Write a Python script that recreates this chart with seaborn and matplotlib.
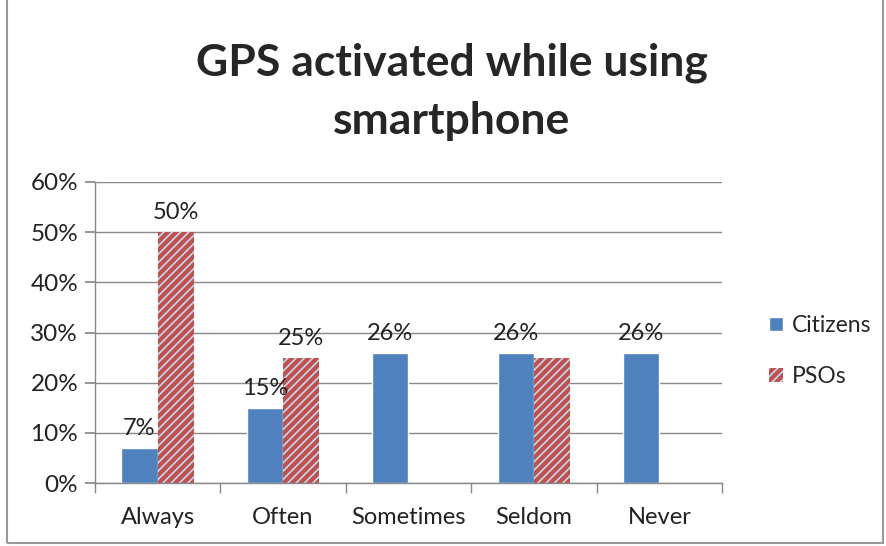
import numpy as np
import pandas as pd
import matplotlib
matplotlib.use('Agg')
import matplotlib.pyplot as plt
import seaborn as sns
from matplotlib.patches import Rectangle, Patch
from matplotlib.ticker import PercentFormatter, FixedLocator

# ------------------------------------------------------------
# DATA
# ------------------------------------------------------------
categories = ['Always', 'Often', 'Sometimes', 'Seldom', 'Never']
citizens   = [0.07, 0.15, 0.26, 0.26, 0.26]
psos       = [0.50, 0.25, np.nan, 0.25, np.nan]
series     = ['Citizens', 'PSOs']

BLUE = '#4F81BD'
RED  = '#C0504D'
PALE = '#C6D5E8'
GRID = '#888888'
TXT  = '#222222'

df = pd.DataFrame({
    'category': categories * 2,
    'series'  : ['Citizens'] * len(categories) + ['PSOs'] * len(categories),
    'value'   : citizens + psos,
})

sns.set_theme(style='white')
plt.rcParams['font.family'] = ['Lato', 'DejaVu Sans']
plt.rcParams['hatch.linewidth'] = 3.0
plt.rcParams['hatch.color'] = RED

fig = plt.figure(figsize=(8.86, 5.46), dpi=100)
ax = fig.add_axes([0.107, 0.115, 0.708, 0.552])

sns.barplot(data=df, x='category', y='value', hue='series',
            order=categories, hue_order=series,
            palette=[BLUE, PALE], width=0.575,
            saturation=1, ax=ax, legend=False)

# hatch the PSO bars
for bar in ax.containers[1]:
    bar.set_hatch('////')
    bar.set_edgecolor(RED)
    bar.set_linewidth(0)

# value labels
for cont, vals in zip(ax.containers, [citizens, psos]):
    for bar, v in zip(cont, vals):
        if np.isnan(v):
            continue
        ax.text(bar.get_x() + bar.get_width() / 2, v + 0.018,
                f'{v*100:.0f}%', ha='center', va='bottom',
                fontsize=17, color=TXT)

ax.set_ylim(0, 0.6)
ax.set_xlim(-0.5, len(categories) - 0.5)
ax.yaxis.set_major_formatter(PercentFormatter(1.0, decimals=0))
ax.set_yticks(np.arange(0, 0.61, 0.1))
ax.yaxis.grid(True, color=GRID, linewidth=1)
ax.set_axisbelow(True)
ax.set_xlabel('')
ax.set_ylabel('')

for side in ['top', 'right']:
    ax.spines[side].set_visible(False)
for side in ['left', 'bottom']:
    ax.spines[side].set_color(GRID)
    ax.spines[side].set_linewidth(1)

ax.tick_params(axis='y', length=7, color=GRID, labelsize=17.5, labelcolor=TXT, pad=5, left=True)
ax.tick_params(axis='x', length=0, labelsize=17, labelcolor=TXT, pad=17)
ax.xaxis.set_minor_locator(FixedLocator(np.arange(-0.5, len(categories), 1.0)))
ax.tick_params(axis='x', which='minor', length=7, color=GRID, bottom=True)

fig.suptitle('GPS activated while using\nsmartphone', x=0.51, y=0.922,
             fontsize=32, fontweight='bold', linespacing=1.55)

handles = [Patch(facecolor=BLUE, label='Citizens'),
           Patch(facecolor=PALE, edgecolor=RED, hatch='////', linewidth=0, label='PSOs')]
fig.legend(handles=handles, loc='center left', bbox_to_anchor=(0.845, 0.357),
           frameon=False, fontsize=16.5, handlelength=0.6, handleheight=0.6,
           handletextpad=0.4, labelspacing=1.3)

# outer chart border
fig.patches.append(Rectangle((0.008, 0.005), 0.989, 1.2, transform=fig.transFigure,
                             fill=False, edgecolor='#999999', linewidth=1.5))

plt.savefig('out.png', dpi=100)
